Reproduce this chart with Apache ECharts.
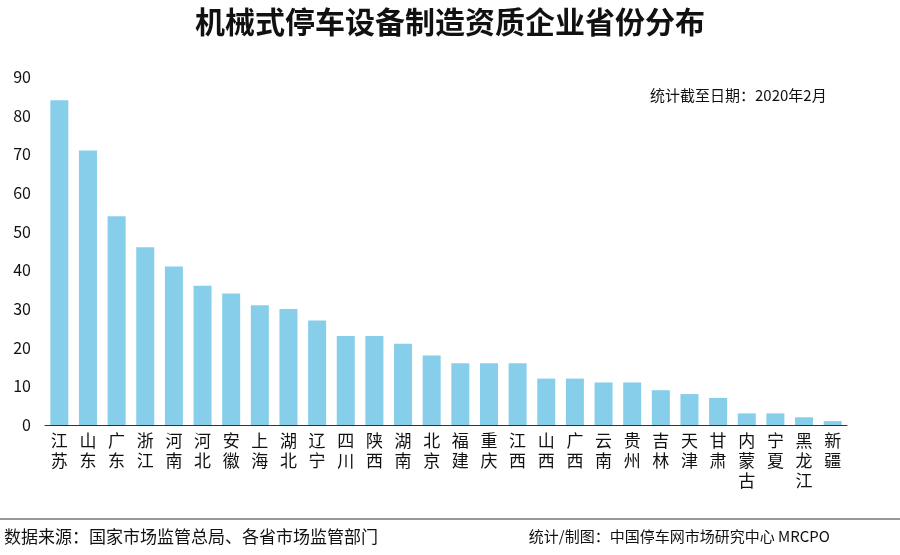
<!DOCTYPE html>
<html><head><meta charset="utf-8">
<script src="https://cdn.jsdelivr.net/npm/echarts@6/dist/echarts.min.js"></script>
<style>body{margin:0}#c{width:900px;height:555px}</style></head>
<body><div id="c"></div>
<script>
const categories=['江苏','山东','广东','浙江','河南','河北','安徽','上海','湖北','辽宁','四川','陕西','湖南','北京','福建','重庆','江西','山西','广西','云南','贵州','吉林','天津','甘肃','内蒙古','宁夏','黑龙江','新疆'];
const values=[84,71,54,46,41,36,34,31,30,27,23,23,21,18,16,16,16,12,12,11,11,9,8,7,3,3,2,1];
const yTicks=[0,10,20,30,40,50,60,70,80,90];
const F='"Noto Sans CJK SC","Noto Sans",sans-serif';
const chart=echarts.init(document.getElementById('c'));
chart.setOption({
  title:{text:'机械式停车设备制造资质企业省份分布',left:'center',top:2,textStyle:{fontFamily:F,fontSize:30,fontWeight:'bold',color:'#111'}},
  grid:{left:45,right:53,top:77,bottom:130},
  xAxis:{type:'category',data:categories,axisTick:{show:false},axisLine:{lineStyle:{color:'#333'}},
    axisLabel:{interval:0,fontFamily:F,fontSize:17,color:'#111',lineHeight:20,margin:6,formatter:v=>v.split('').join('\n')}},
  yAxis:{type:'value',min:yTicks[0],max:yTicks[yTicks.length-1],interval:10,axisLine:{show:false},axisTick:{show:false},
    splitLine:{show:false},axisLabel:{fontFamily:F,fontSize:16,color:'#111',margin:14}},
  series:[{type:'bar',data:values,barWidth:18,itemStyle:{color:'#87CEEB'}}],
  graphic:[
    {type:'text',left:650,top:88,style:{text:'统计截至日期：2020年2月',font:'15px '+F,fill:'#111'}},
    {type:'line',shape:{x1:0,y1:519,x2:900,y2:519},style:{stroke:'#333',lineWidth:1}},
    {type:'text',left:4,top:528,style:{text:'数据来源：国家市场监管总局、各省市场监管部门',font:'17px '+F,fill:'#111'}},
    {type:'text',right:70,top:529,style:{text:'统计/制图：中国停车网市场研究中心 MRCPO',font:'15px '+F,fill:'#111'}}
  ]
});
</script></body></html>
